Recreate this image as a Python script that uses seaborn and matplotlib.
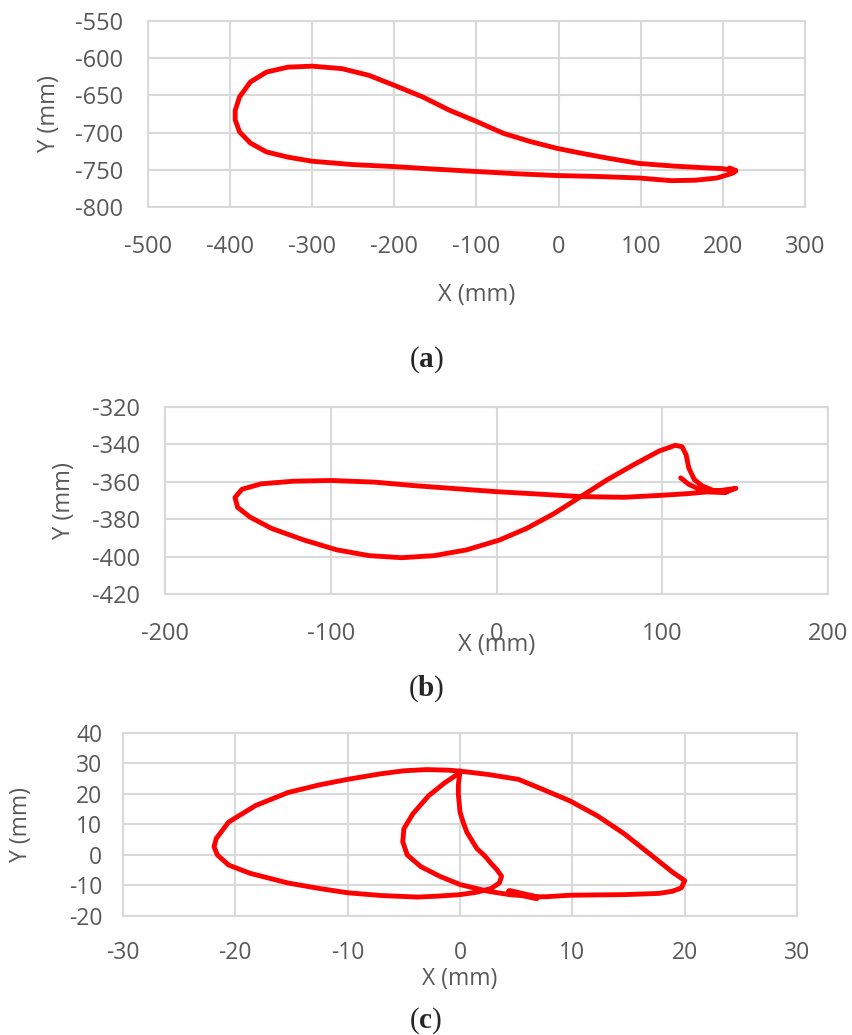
import matplotlib
matplotlib.use("Agg")
import matplotlib.pyplot as plt
import seaborn as sns
import pandas as pd

# --- trajectory (a) ---
a_x = [215.7, 199.3, 173, 140, 97.7, 61.6, 28.9, -2.6, -34.4, -67.2, -100, -132.8,
       -165.6, -200, -231, -264, -300, -329.5, -355.7, -375.4, -388.5, -393.8,
       -393.8, -388.5, -375.4, -355.7, -329.5, -300, -250.8, -200, -152, -100,
       -47.5, -2.6, 48.5, 97.7, 137, 166.6, 192.8, 212.5, 215.7, 208]
a_y = [-751.5, -748.4, -747, -745, -741.4, -734.7, -728, -721, -712, -701, -685,
       -670, -652, -636.5, -623, -614, -610.7, -612, -618.6, -632, -652, -670,
       -683, -699, -714, -726, -733, -738.5, -743, -745.7, -749, -752.3, -755.5,
       -757.7, -759, -761, -764.6, -764, -761, -754.4, -751, -747.5]

# --- trajectory (b) ---
b_x = [111.1, 116, 122.5, 129, 137.3, 144.4, 132.4, 116, 100.3, 76.8, 50, 27.8,
       0, -24.5, -50.7, -73.5, -100, -122.5, -142, -153.6, -157.8, -156.2,
       -148.7, -135.6, -116, -96.4, -76.8, -57.2, -37.6, -18, 1.6, 18, 34.3, 50,
       67, 83.3, 98, 107.8, 112, 114.4, 116, 119.3, 124.2, 130.7, 138.9]
b_y = [-357.9, -361.4, -364, -365.5, -365.8, -363.5, -365, -366.3, -367.2,
       -368.3, -367.9, -366.7, -365.3, -363.7, -362, -360.2, -359.3, -359.7,
       -361.1, -364, -368.4, -373.7, -378.9, -385, -391.2, -396.4, -399.5,
       -400.6, -399.5, -396.4, -391.2, -385, -377.2, -368.4, -358.8, -350.6,
       -343.6, -340.5, -341.3, -345.7, -352.7, -358.8, -362.3, -364.6, -365.5]

# --- trajectory (c) ---
c_x = [0, -0.15, -0.15, 0, 0.3, 0.6, 1.5, 2.2, 2.75, 3.3, 3.7, 3.5, 2.75, 1.5, 0,
       -2, -3.8, -7, -10, -12.5, -15.3, -18.7, -20.6, -21.6, -21.9, -21.7, -20.6,
       -18.2, -15.3, -12.5, -10, -7.1, -5, -3, -1, 0, 2.5, 5.2, 7.3, 9.75, 12.2,
       14.6, 17, 18.9, 20, 19.7, 18.9, 17.7, 14.6, 9.8, 7.6, 6.8, 4.4, 2.5, 0,
       -1.8, -3.5, -4.7, -5.1, -5, -4.2, -2.8, -1.35, 0]
c_y = [27.5, 23, 19.9, 14, 10.5, 7.5, 2.1, -0.3, -2.7, -4.9, -7, -9.2, -11,
       -12.2, -13, -13.5, -13.8, -13.3, -12.4, -11, -9.2, -6, -3.3, 0, 2.7, 5.4,
       10.8, 16.2, 20.5, 23, 24.8, 26.6, 27.6, 28, 27.8, 27.5, 26.4, 24.8, 21.6,
       17.8, 12.9, 7, 0, -5.6, -8.4, -10.8, -11.9, -12.6, -13, -13.2, -13.7,
       -13.7, -13, -11.9, -9.7, -7, -3.8, 0, 4.3, 8.6, 13.5, 19.4, 23.7, 27]
c_tail_x = [4.4, 5.6, 6.8]
c_tail_y = [-12.0, -13.0, -14.0]

sns.set_style("whitegrid", {"grid.color": "#d9d9d9", "axes.edgecolor": "#d9d9d9"})
plt.rcParams["font.family"] = ["Open Sans", "DejaVu Sans"]
plt.rcParams["axes.unicode_minus"] = False
plt.rcParams["mathtext.fontset"] = "custom"
plt.rcParams["mathtext.rm"] = "Liberation Serif"
plt.rcParams["mathtext.bf"] = "Liberation Serif:bold"

GRAY = "#595959"
RED = "#ff0000"

fig = plt.figure(figsize=(8.52, 10.35), dpi=100)


def add_panel(rect, xs, ys, xlim, xticks, ylim, yticks, xlab_y, ylab_x, caption, cap_y,
              xpad, ypad, fs):
    ax = fig.add_axes(rect)
    df = pd.DataFrame({"x": xs, "y": ys})
    sns.lineplot(data=df, x="x", y="y", sort=False, estimator=None, color=RED,
                 linewidth=3.5, ax=ax, solid_joinstyle="round", solid_capstyle="round")
    ax.set_xlim(*xlim)
    ax.set_ylim(*ylim)
    ax.set_xticks(xticks)
    ax.set_yticks(yticks)
    ax.grid(True, color="#d9d9d9", linewidth=1.5)
    for s in ax.spines.values():
        s.set_color("#d9d9d9")
        s.set_linewidth(1.5)
    ax.tick_params(axis="both", length=0, labelsize=fs, labelcolor=GRAY)
    ax.tick_params(axis="x", pad=xpad)
    ax.tick_params(axis="y", pad=ypad)
    ax.set_xlabel("X (mm)", fontsize=fs, color=GRAY)
    ax.set_ylabel("Y (mm)", fontsize=fs, color=GRAY)
    ax.xaxis.set_label_coords(0.5, xlab_y)
    ax.xaxis.label.set_va("center")
    ax.yaxis.set_label_coords(ylab_x, 0.5)
    ax.yaxis.label.set_va("center")
    fig.text(0.5, cap_y, r"$\mathrm{(}\mathbf{" + caption + r"}\mathrm{)}$",
             ha="center", va="center", fontsize=21)
    return ax


add_panel([0.1737, 0.8, 0.7711, 0.1797], a_x, a_y, (-500, 300), range(-500, 301, 100),
          (-800, -550), range(-800, -549, 50), -0.475, -0.15, "a", 1 - 360 / 1035, 20, 18, 17)

add_panel([0.1937, 0.4261, 0.7782, 0.1807], b_x, b_y, (-200, 200), range(-200, 201, 100),
          (-420, -320), range(-420, -319, 20), -0.275, -0.153, "b", 1 - 689 / 1035, 20, 18, 17)

ax_c = add_panel([0.1444, 0.115, 0.7911, 0.1768], c_x, c_y, (-30, 30), range(-30, 31, 10),
                 (-20, 40), range(-20, 41, 10), -0.345, -0.152, "c", 1 - 1021 / 1035, 18, 15, 16.5)
sns.lineplot(x=c_tail_x, y=c_tail_y, sort=False, estimator=None, color=RED,
             linewidth=5, ax=ax_c)

fig.savefig("out.png", dpi=100)
